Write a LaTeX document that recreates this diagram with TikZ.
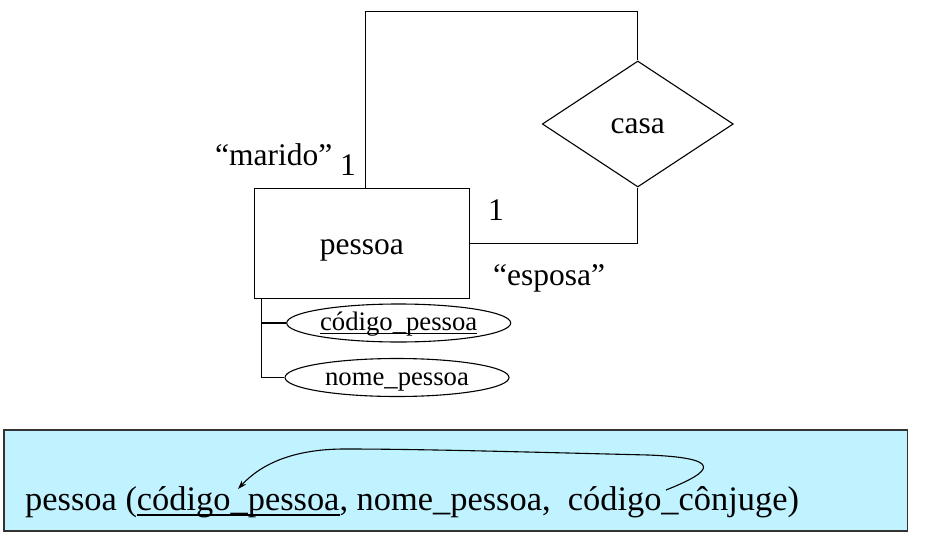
\documentclass[tikz,border=0pt]{standalone}
\usepackage{fontspec}
\setmainfont{Liberation Serif}
\usetikzlibrary{shapes.geometric,arrows.meta}
\newcommand\myul[3]{\setbox0\hbox{#1}\rlap{\rule[-#2]{\wd0}{#3}}#1}
\definecolor{relfill}{HTML}{C0F2FF}
\definecolor{relborder}{HTML}{333333}
\begin{document}
\begin{tikzpicture}[x=1pt,y=-1pt,
  conn/.style={draw=black,line width=1.1pt},
  bigfont/.style={font=\fontsize{31.5}{36}\selectfont},
  attrfont/.style={font=\fontsize{26.7}{31}\selectfont},
  relfont/.style={font=\fontsize{34.4}{40}\selectfont},
  entity/.style={draw,line width=1.1pt,rectangle,minimum width=215pt,minimum height=110pt,inner sep=0pt,bigfont},
  relship/.style={draw,line width=1.1pt,diamond,minimum width=191pt,minimum height=126pt,inner sep=0pt,bigfont},
  attr/.style={draw,line width=1.1pt,ellipse,minimum width=224pt,minimum height=38pt,inner sep=0pt,attrfont,text height=15pt,text depth=0pt},
  lbl/.style={anchor=base west,inner sep=0pt,bigfont}]
\useasboundingbox (0,0) rectangle (929,535);

% entity and relationship
\node[entity,text height=21.4pt,text depth=0pt] (p) at (361.8,243.3) {pessoa};
\node[relship,text height=18.6pt,text depth=0pt] (c) at (637.8,124) {casa};
\coordinate (topy) at (0,11.7);
\coordinate (pn) at ([xshift=4pt]p.north);
\draw[conn] (pn) -- (pn |- topy) -- (c.north |- topy) -- (c.north);
\draw[conn] (c.south) |- (p.east);

% labels
\node[lbl] (lm) at (215,165) {“marido”};
\node[lbl] (l1a) at (340,175) {1};
\node[lbl] (l1b) at (488,220.7) {1};
\node[lbl] (le) at (493,285) {“esposa”};

% attributes
\node[attr] (a1) at (398.7,323) {\myul{código\_pessoa}{3.5pt}{1.3pt}};
\node[attr] (a2) at (397,377.5) {nome\_pessoa};
\coordinate (spine) at ([xshift=7.4pt]p.south west);
\draw[conn] (spine) |- (a2.west);
\draw[conn] (spine |- a1.west) -- (a1.west);

% relational schema box
\node[draw=relborder,fill=relfill,line width=1.5pt,rectangle,minimum width=903.5pt,minimum height=101pt,inner sep=0pt] (box) at (455.7,480.5) {};
\node[relfont,anchor=base west,inner sep=0pt] (rel) at (25,510.7)
  {pessoa (\myul{código\_pessoa}{5pt}{1.8pt}, nome\_pessoa,\ \ código\_cônjuge)};
\coordinate (arrS) at (666,490);
\coordinate (arrE) at (238,489);
\draw[line width=1.1pt,-{Stealth[length=9pt,width=6pt]}] (arrS) .. controls (714,471) and (724,458) .. (648,455)
  .. controls (525,452) and (420,449) .. (345,449)
  .. controls (295,449) and (262,463) .. (arrE);
\end{tikzpicture}
\end{document}
